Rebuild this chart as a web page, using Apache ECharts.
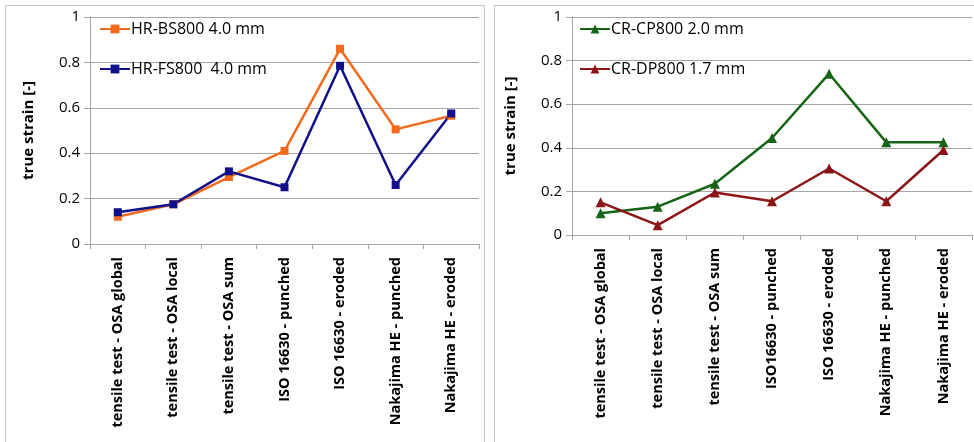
<!DOCTYPE html>
<html>
<head>
<meta charset="utf-8">
<script src="https://cdn.jsdelivr.net/npm/echarts@6/dist/echarts.min.js"></script>
<style>
  html, body { margin: 0; padding: 0; background: #fff; }
  #chart { width: 974px; height: 442px; }
</style>
</head>
<body>
<div id="chart"></div>
<script>
// categories for both panels
const catsHR = ['tensile test - OSA global', 'tensile test - OSA local', 'tensile test - OSA sum',
  'ISO 16630 - punched', 'ISO 16630 - eroded', 'Nakajima HE - punched', 'Nakajima HE - eroded'];
const catsCR = ['tensile test - OSA global', 'tensile test - OSA local', 'tensile test - OSA sum',
  'ISO16630 - punched', 'ISO 16630 - eroded', 'Nakajima HE - punched', 'Nakajima HE - eroded'];

// left panel
const hrBS800 = [0.12, 0.175, 0.295, 0.41, 0.86, 0.505, 0.565];
const hrFS800 = [0.14, 0.175, 0.32, 0.25, 0.785, 0.26, 0.575];
// right panel
const crCP800 = [0.10, 0.13, 0.235, 0.445, 0.74, 0.425, 0.425];
const crDP800 = [0.15, 0.045, 0.195, 0.155, 0.305, 0.155, 0.39];

const font = '"Open Sans", "DejaVu Sans", sans-serif';
const gridColor = '#a6a6a6';

function xAxisFor(idx, cats) {
    return {
        type: 'category',
        gridIndex: idx,
        data: cats,
        boundaryGap: true,
        axisLine: { lineStyle: { color: gridColor, width: 1 } },
        axisTick: { show: true, length: 5, lineStyle: { color: gridColor } },
        axisLabel: {
            rotate: 90,
            margin: 13,
            interval: 0,
            color: '#000',
            fontFamily: font,
            fontWeight: 'bold',
            fontSize: 14.5
        }
    };
}

function yAxisFor(idx) {
    return {
        type: 'value',
        gridIndex: idx,
        min: 0,
        max: 1,
        interval: 0.2,
        name: 'true strain [-]',
        nameLocation: 'middle',
        nameGap: 54,
        nameTextStyle: { color: '#000', fontFamily: font, fontWeight: 'bold', fontSize: 15 },
        axisLine: { show: true, lineStyle: { color: gridColor } },
        axisTick: { show: true, length: 6, lineStyle: { color: gridColor } },
        splitLine: { lineStyle: { color: gridColor, width: 1 } },
        axisLabel: {
            color: '#000', fontFamily: font, fontSize: 15, margin: 10,
            formatter: v => String(Math.round(v * 10) / 10)
        }
    };
}

function lineSeries(name, data, color, symbol, size, idx) {
    return {
        name: name,
        type: 'line',
        data: data,
        xAxisIndex: idx,
        yAxisIndex: idx,
        symbol: symbol,
        symbolSize: size,
        lineStyle: { color: color, width: 2.5 },
        itemStyle: { color: color },
        emphasis: { disabled: true },
        animation: false
    };
}

function legendFor(names, left) {
    return {
        data: names,
        orient: 'vertical', left: left, top: 16, itemGap: 24,
        itemWidth: 30, itemHeight: 11,
        textStyle: { color: '#000', fontFamily: font, fontSize: 16, padding: [0, 0, 0, -4] }
    };
}

const chart = echarts.init(document.getElementById('chart'));
chart.setOption({
    animation: false,
    graphic: [
        { type: 'rect', shape: { x: 5.5, y: 5.5, width: 479, height: 440 },
          style: { fill: 'none', stroke: '#c4c4c4', lineWidth: 1 }, z: -1 },
        { type: 'rect', shape: { x: 494.5, y: 5.5, width: 490, height: 440 },
          style: { fill: 'none', stroke: '#c4c4c4', lineWidth: 1 }, z: -1 }
    ],
    grid: [
        { left: 90, right: 495, top: 17, bottom: 198 },
        { left: 572, right: 2, top: 17, bottom: 207 }
    ],
    legend: [
        legendFor(['HR-BS800 4.0 mm', 'HR-FS800  4.0 mm'], 94),
        legendFor(['CR-CP800 2.0 mm', 'CR-DP800 1.7 mm'], 574)
    ],
    xAxis: [xAxisFor(0, catsHR), xAxisFor(1, catsCR)],
    yAxis: [yAxisFor(0), yAxisFor(1)],
    series: [
        lineSeries('HR-BS800 4.0 mm', hrBS800, '#f26a1b', 'rect', 8, 0),
        lineSeries('HR-FS800  4.0 mm', hrFS800, '#10108a', 'rect', 8, 0),
        lineSeries('CR-CP800 2.0 mm', crCP800, '#166416', 'triangle', 10, 1),
        lineSeries('CR-DP800 1.7 mm', crDP800, '#8c1616', 'triangle', 10, 1)
    ]
});
</script>
</body>
</html>
